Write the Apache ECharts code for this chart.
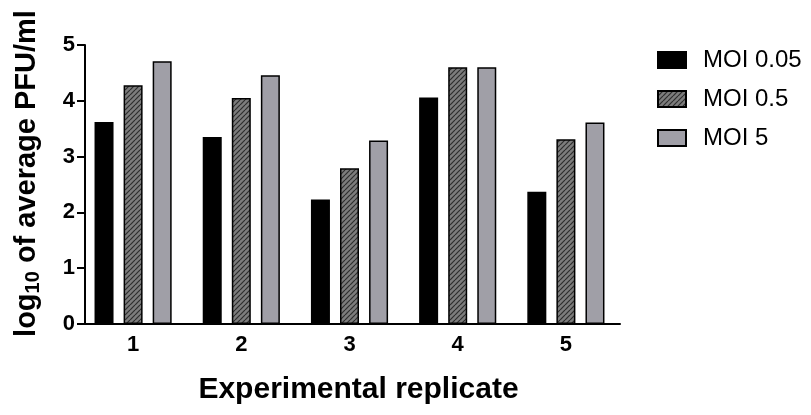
<!DOCTYPE html>
<html>
<head>
<meta charset="utf-8">
<script src="https://cdn.jsdelivr.net/npm/echarts@6/dist/echarts.min.js"></script>
<style>
  html, body { margin: 0; padding: 0; background: #fff; }
  #chart { width: 811px; height: 415px; }
</style>
</head>
<body>
<div id="chart"></div>
<script>
// replicate labels on the x axis
const replicates = ['1', '2', '3', '4', '5'];
// log10 of average PFU/ml, one array per MOI
const moi005 = [3.62, 3.35, 2.23, 4.06, 2.37];
const moi05 = [4.28, 4.05, 2.79, 4.60, 3.31];
const moi5 = [4.71, 4.46, 3.29, 4.60, 3.61];
const yTicks = [0, 1, 2, 3, 4, 5];

const font = "'Liberation Sans', Arial, sans-serif";

// diagonal hatch for the MOI 0.5 bars
function hatch() {
  let c = document.createElement('canvas');
  c.width = 5;
  c.height = 5;
  let ctx = c.getContext('2d');
  ctx.fillStyle = '#7d7d7d';
  ctx.fillRect(0, 0, 5, 5);
  ctx.strokeStyle = '#2e2e2e';
  ctx.lineWidth = 1.2;
  [-5, 0, 5].forEach(k => {
    ctx.beginPath();
    ctx.moveTo(k, 5);
    ctx.lineTo(k + 5, 0);
    ctx.stroke();
  });
  return { image: c, repeat: 'repeat' };
}

let chart = echarts.init(document.getElementById('chart'));
let bar = (name, data, color) => ({
  name: name,
  type: 'bar',
  data: data,
  barWidth: 19,
  barGap: '53%',
  itemStyle: { color: color, borderColor: '#000', borderWidth: 1.5 }
});

chart.setOption({
  animation: false,
  textStyle: { fontFamily: font },
  grid: { left: 79, right: 191, top: 45, bottom: 91, containLabel: false },
  legend: {
    orient: 'vertical',
    left: 652,
    top: 43,
    icon: 'rect',
    itemWidth: 28,
    itemHeight: 16,
    itemGap: 15,
    textStyle: { fontSize: 24, color: '#000', fontFamily: font, padding: [0, 0, 0, 12] },
    data: ['MOI 0.05', 'MOI 0.5', 'MOI 5']
  },
  xAxis: {
    type: 'category',
    data: replicates,
    name: 'Experimental replicate',
    nameLocation: 'middle',
    nameGap: 51,
    nameTextStyle: { fontSize: 30, fontWeight: 'bold', color: '#000', fontFamily: font, padding: [0, 0, 0, 18] },
    axisLine: { lineStyle: { color: '#000', width: 2 } },
    axisTick: { alignWithLabel: true, length: 8, lineStyle: { color: '#000', width: 2 } },
    axisLabel: { fontSize: 22, fontWeight: 'bold', color: '#000', margin: 10 }
  },
  yAxis: {
    type: 'value',
    min: yTicks[0],
    max: yTicks[yTicks.length - 1],
    interval: 1,
    offset: -6,
    name: '{a|log}{sub|10}{a| of average PFU/ml}',
    nameLocation: 'middle',
    nameGap: 42,
    nameTextStyle: {
      color: '#000',
      padding: [0, 0, 0, 22],
      rich: {
        a: { fontSize: 29, fontWeight: 'bold', fontFamily: font, lineHeight: 32 },
        sub: { fontSize: 20, fontWeight: 'bold', fontFamily: font, lineHeight: 14, verticalAlign: 'bottom' }
      }
    },
    axisLine: { show: true, lineStyle: { color: '#000', width: 2 } },
    axisTick: { show: true, length: 8, lineStyle: { color: '#000', width: 2 } },
    axisLabel: { fontSize: 22, fontWeight: 'bold', color: '#000', margin: 10 },
    splitLine: { show: false }
  },
  series: [
    bar('MOI 0.05', moi005, '#000'),
    bar('MOI 0.5', moi05, hatch()),
    bar('MOI 5', moi5, '#a09fa7')
  ]
});
</script>
</body>
</html>
